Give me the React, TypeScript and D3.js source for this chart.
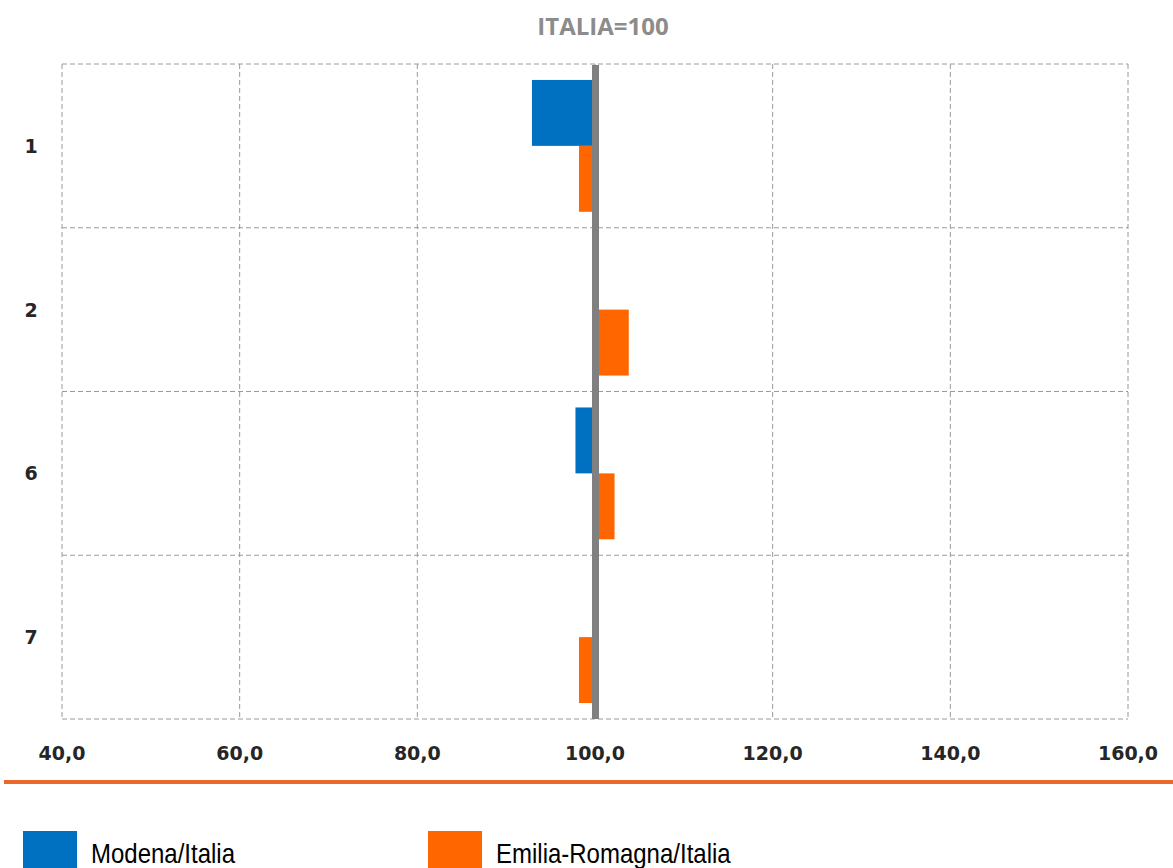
import React from "react";
import * as d3 from "d3";

const categories = ["1", "2", "6", "7"];
const seriesNames = ["Modena/Italia", "Emilia-Romagna/Italia"];
const modena = [92.9, 100, 97.8, 100];
const emilia = [98.2, 103.8, 102.2, 98.2];
const xTicks = [40, 60, 80, 100, 120, 140, 160];
const title = "ITALIA=100";
const colors = ["#0070C0", "#FF6600"];

const W = 1173;
const H = 868;
const plot = { left: 62, right: 1128, top: 64, bottom: 719 };

export default function App() {
  const x = d3.scaleLinear().domain([40, 160]).range([plot.left, plot.right]);
  const y = d3.scaleBand<string>().domain(categories).range([plot.top, plot.bottom]).padding(0);
  const sub = d3
    .scaleBand<string>()
    .domain(seriesNames)
    .range([0, y.bandwidth()])
    .paddingInner(0)
    .paddingOuter(0.242);
  const series = [modena, emilia];
  const fmt = (v: number) => v.toFixed(1).replace(".", ",");
  const grid = "#9A9A9A";

  return (
    <svg
      width={W}
      height={H}
      style={{ position: "absolute", left: 0, top: 0, display: "block", background: "#fff" }}
    >
      <text
        x={603}
        y={35}
        textAnchor="middle"
        fontFamily="'Open Sans', sans-serif"
        fontWeight={700}
        fontSize={24}
        fill="#8C8C8C"
      >
        {title}
      </text>

      {/* horizontal grid lines */}
      {categories.map((c) => (
        <line
          key={"h" + c}
          x1={plot.left}
          x2={plot.right}
          y1={y(c)!}
          y2={y(c)!}
          stroke={grid}
          strokeDasharray="5,3"
        />
      ))}
      <line
        x1={plot.left}
        x2={plot.right}
        y1={plot.bottom}
        y2={plot.bottom}
        stroke={grid}
        strokeDasharray="5,3"
      />
      {/* vertical grid lines */}
      {xTicks.map((t) => (
        <line
          key={"v" + t}
          x1={x(t)}
          x2={x(t)}
          y1={plot.top}
          y2={plot.bottom}
          stroke={grid}
          strokeDasharray="5,3"
        />
      ))}

      {/* bars */}
      {series.map((vals, si) =>
        categories.map((c, ci) => {
          const v = vals[ci];
          const x0 = Math.min(x(100), x(v));
          const w = Math.abs(x(v) - x(100));
          if (w < 0.01) return null;
          return (
            <rect
              key={si + "-" + c}
              x={x0}
              y={y(c)! + sub(seriesNames[si])!}
              width={w}
              height={sub.bandwidth()}
              fill={colors[si]}
            />
          );
        })
      )}

      {/* reference line at 100 */}
      <line
        x1={x(100) + 0.5}
        x2={x(100) + 0.5}
        y1={plot.top + 1}
        y2={plot.bottom}
        stroke="#808080"
        strokeWidth={7}
      />

      {/* category labels */}
      {categories.map((c) => (
        <text
          key={"c" + c}
          x={31}
          y={y(c)! + y.bandwidth() / 2 + 7}
          textAnchor="middle"
          fontFamily="'DejaVu Sans', sans-serif"
          fontWeight={700}
          fontSize={19}
          fill="#262626"
        >
          {c}
        </text>
      ))}

      {/* x tick labels */}
      {xTicks.map((t) => (
        <text
          key={"t" + t}
          x={x(t)}
          y={760}
          textAnchor="middle"
          fontFamily="'DejaVu Sans', sans-serif"
          fontWeight={700}
          fontSize={19}
          fill="#262626"
        >
          {fmt(t)}
        </text>
      ))}

      {/* orange separator */}
      <line x1={4} x2={W} y1={782} y2={782} stroke="#E8692A" strokeWidth={4} />

      {/* legend */}
      {seriesNames.map((n, i) => {
        const lx = i === 0 ? 23 : 428;
        return (
          <g key={"l" + n}>
            <rect x={lx} y={831} width={54} height={40} fill={colors[i]} />
            <text
              transform={`translate(${lx + 68},863) scale(1,1.18)`}
              fontFamily="'Liberation Sans', Arial, sans-serif"
              fontSize={24}
              fill="#000"
            >
              {n}
            </text>
          </g>
        );
      })}
    </svg>
  );
}
